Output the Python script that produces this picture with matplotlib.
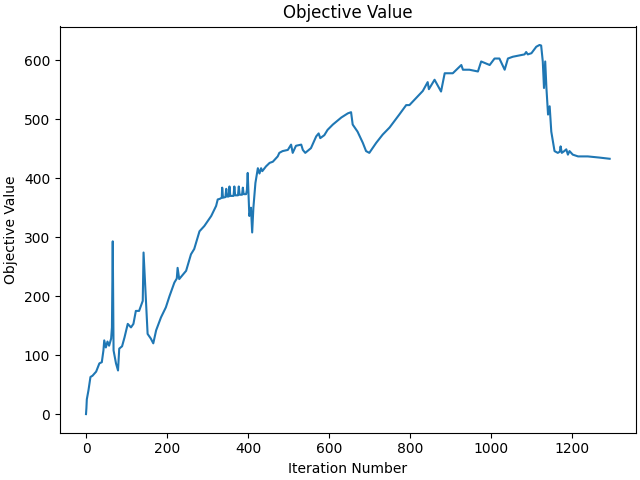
import matplotlib.pyplot as plt

iterations = [0, 1, 2, 6, 11, 16, 25, 33, 39, 43, 45, 49, 53, 57, 62, 64, 66, 68, 74, 79, 82, 89, 95, 103, 111, 117, 123, 131, 140, 142, 148, 152, 160, 166, 173, 185, 197, 206, 218, 224, 226, 230, 247, 259, 267, 280, 292, 309, 321, 325, 330, 335, 336, 338, 344, 346, 348, 352, 354, 356, 364, 366, 368, 375, 377, 379, 385, 387, 389, 395, 397, 399, 403, 407, 410, 413, 418, 424, 428, 432, 435, 444, 453, 461, 473, 477, 485, 498, 506, 510, 518, 531, 535, 541, 555, 568, 574, 578, 588, 596, 609, 630, 646, 654, 658, 670, 683, 691, 699, 716, 732, 749, 773, 790, 798, 831, 843, 846, 860, 872, 876, 885, 905, 926, 930, 946, 967, 975, 996, 1008, 1020, 1033, 1041, 1053, 1082, 1086, 1090, 1099, 1111, 1119, 1123, 1127, 1130, 1133, 1136, 1140, 1144, 1148, 1156, 1164, 1169, 1171, 1174, 1180, 1185, 1189, 1193, 1201, 1214, 1238, 1267, 1292]
objective = [0, 10, 25, 40, 63, 65, 72, 86, 88, 108, 125, 113, 123, 116, 128, 147, 293, 108, 86, 74, 111, 115, 130, 153, 147, 153, 175, 175, 192, 274, 192, 136, 128, 120, 142, 164, 181, 200, 223, 230, 248, 229, 243, 271, 280, 310, 319, 336, 353, 364, 365, 367, 384, 367, 368, 382, 369, 369, 386, 370, 370, 386, 371, 371, 386, 372, 372, 384, 373, 373, 380, 409, 336, 350, 308, 350, 392, 417, 408, 417, 412, 420, 426, 428, 437, 443, 446, 448, 457, 443, 455, 457, 448, 443, 451, 471, 476, 468, 473, 482, 491, 503, 510, 512, 491, 479, 460, 446, 443, 460, 474, 486, 508, 524, 524, 548, 563, 551, 567, 552, 547, 578, 578, 592, 584, 584, 581, 598, 592, 603, 603, 584, 603, 606, 610, 614, 610, 612, 623, 626, 625, 598, 553, 598, 553, 508, 522, 479, 446, 443, 445, 454, 443, 446, 449, 440, 446, 440, 437, 437, 435, 433]

fig, ax = plt.subplots(figsize=(6.4, 4.8), dpi=100)
ax.plot(iterations, objective)
ax.set_title('Objective Value')
ax.set_xlabel('Iteration Number')
ax.set_ylabel('Objective Value')
fig.tight_layout(pad=0.3)
fig.savefig('out.png')
